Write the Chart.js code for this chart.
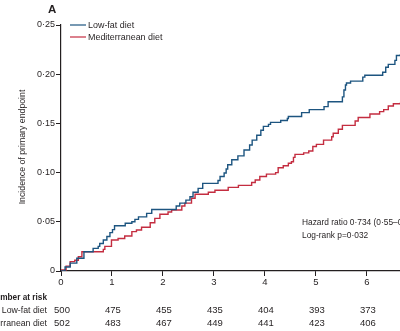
<!DOCTYPE html>
<html>
<head>
<meta charset="utf-8">
<script src="https://cdn.jsdelivr.net/npm/chart.js@4"></script>
<style>
  html, body { margin: 0; padding: 0; background: #fff; }
  #wrap { width: 400px; height: 331px; }
</style>
</head>
<body>
<div id="wrap"><canvas id="km"></canvas></div>
<script>
// Kaplan-Meier steps (years, cumulative incidence)
const lowFatYears = [0, 0.08, 0.18, 0.31, 0.45, 0.63, 0.73, 0.76, 0.83, 0.90, 0.96, 1.01, 1.05, 1.26, 1.39, 1.45, 1.52, 1.68, 1.78,
  2.26, 2.33, 2.45, 2.53, 2.59, 2.69, 2.78, 3.08, 3.12, 3.20, 3.24, 3.27, 3.35, 3.47, 3.59, 3.70, 3.75, 3.84, 3.92, 3.97,
  4.07, 4.11, 4.31, 4.44, 4.46, 4.72, 4.87, 5.16, 5.24, 5.52, 5.55, 5.58, 5.60, 5.68, 5.92, 5.96, 6.31, 6.37, 6.42, 6.55, 6.58, 6.65];
const lowFatIncidence = [0, 0.004, 0.008, 0.013, 0.0196, 0.023, 0.025, 0.028, 0.0315, 0.035, 0.039, 0.042, 0.046, 0.0485, 0.050, 0.0525, 0.055, 0.0586, 0.0625,
  0.066, 0.069, 0.072, 0.0755, 0.080, 0.084, 0.089, 0.092, 0.096, 0.0996, 0.1037, 0.108, 0.113, 0.117, 0.123, 0.128, 0.133, 0.138, 0.143, 0.147,
  0.149, 0.151, 0.153, 0.155, 0.157, 0.161, 0.164, 0.167, 0.172, 0.177, 0.184, 0.189, 0.191, 0.193, 0.197, 0.199, 0.202, 0.207, 0.210, 0.214, 0.219, 0.220];

const medYears = [0, 0.01, 0.10, 0.18, 0.27, 0.34, 0.41, 0.83, 0.86, 0.99, 1.12, 1.25, 1.39, 1.48, 1.58, 1.75, 1.84, 1.94, 2.10, 2.17,
  2.37, 2.43, 2.56, 2.63, 2.89, 3.02, 3.28, 3.48, 3.74, 3.81, 3.90, 4.03, 4.21, 4.26, 4.36, 4.46, 4.52, 4.56, 4.59, 4.76, 4.86,
  4.94, 5.01, 5.15, 5.31, 5.34, 5.44, 5.52, 5.77, 5.83, 6.06, 6.25, 6.33, 6.42, 6.52, 6.65];
const medIncidence = [0, 0.001, 0.005, 0.0095, 0.011, 0.0145, 0.0196, 0.022, 0.025, 0.0315, 0.033, 0.0356, 0.040, 0.0417, 0.0444, 0.049, 0.0535, 0.0576, 0.060, 0.062,
  0.066, 0.069, 0.074, 0.078, 0.080, 0.082, 0.085, 0.087, 0.090, 0.0925, 0.096, 0.0985, 0.100, 0.105, 0.107, 0.1095, 0.111, 0.1155, 0.1185, 0.120, 0.122,
  0.1265, 0.1287, 0.133, 0.1365, 0.140, 0.144, 0.148, 0.1524, 0.156, 0.1595, 0.162, 0.164, 0.1677, 0.170, 0.171];

// number at risk table
const riskYears = [0, 1, 2, 3, 4, 5, 6];
const lowFatAtRisk = [500, 475, 455, 435, 404, 393, 373];
const medAtRisk = [502, 483, 467, 449, 441, 423, 406];

const seriesNames = ["Low-fat diet", "Mediterranean diet"];
const seriesColors = ["#1d5580", "#c42d40"];

const FONT = "'Liberation Sans', Arial, sans-serif";
const INK = "#231f20";

const midDot = v => v === 0 ? "0" : v.toFixed(2).replace(".", "\u00b7");

const toPoints = (xs, ys) => xs.map((x, i) => ({ x: x, y: ys[i] }));

// text squeezed horizontally, the journal face is narrower than anything installed
function label(ctx, text, x, y, align, font, sx, rot) {
  ctx.save();
  ctx.translate(x, y);
  if (rot) ctx.rotate(rot);
  ctx.scale(sx, 1);
  ctx.font = font;
  ctx.textAlign = align;
  ctx.textBaseline = "middle";
  ctx.fillText(text, 0, 0);
  ctx.restore();
}

// legend, panel letter, axis title, annotation and risk table
const extras = {
  id: "extras",
  afterDraw(chart) {
    const ctx = chart.ctx;
    const xs = chart.scales.x;
    const area = chart.chartArea;
    const reg = "9.5px " + FONT;
    const bold = "bold 9.5px " + FONT;
    ctx.save();
    ctx.fillStyle = INK;

    label(ctx, "A", 48, 10, "left", "bold 11.5px " + FONT, 1);

    label(ctx, "Incidence of primary endpoint", 22, (area.top + area.bottom) / 2 - 1, "center", reg, 0.92, -Math.PI / 2);

    // legend
    seriesNames.forEach((name, i) => {
      const y = 25 + i * 12;
      ctx.strokeStyle = seriesColors[i];
      ctx.lineWidth = 1.2;
      ctx.beginPath();
      ctx.moveTo(70, y);
      ctx.lineTo(86, y);
      ctx.stroke();
      label(ctx, name, 88, y, "left", reg, 0.94);
    });

    // annotation
    label(ctx, "Hazard ratio 0\u00b7734 (0\u00b755\u20130\u00b798)", 302, 222, "left", reg, 0.88);
    label(ctx, "Log-rank p=0\u00b7032", 302, 235, "left", reg, 0.88);

    // number at risk
    label(ctx, "Number at risk", 47, 297, "right", bold, 0.87);
    label(ctx, seriesNames[0], 47, 310, "right", reg, 0.92);
    label(ctx, seriesNames[1], 47, 323, "right", reg, 0.92);
    riskYears.forEach((yr, i) => {
      const px = xs.getPixelForValue(yr) + 1;
      label(ctx, String(lowFatAtRisk[i]), px, 310, "center", reg, 1);
      label(ctx, String(medAtRisk[i]), px, 323, "center", reg, 1);
    });
    ctx.restore();
  }
};

new Chart(document.getElementById("km"), {
  type: "line",
  data: {
    datasets: [
      {
        label: seriesNames[0],
        data: toPoints(lowFatYears, lowFatIncidence),
        borderColor: seriesColors[0],
        borderWidth: 1.4,
        stepped: true,
        pointRadius: 0,
        fill: false
      },
      {
        label: seriesNames[1],
        data: toPoints(medYears, medIncidence),
        borderColor: seriesColors[1],
        borderWidth: 1.4,
        stepped: true,
        pointRadius: 0,
        fill: false
      }
    ]
  },
  options: {
    responsive: true,
    maintainAspectRatio: false,
    animation: false,
    layout: { padding: { top: 25, right: 0, bottom: 0, left: 0 } },
    plugins: {
      legend: { display: false },
      tooltip: { enabled: false }
    },
    scales: {
      x: {
        type: "linear",
        min: 0,
        max: 6.65,
        afterFit(scale) { scale.height = 60; },
        border: { display: true, color: INK, width: 1.2 },
        grid: { drawOnChartArea: false, drawTicks: true, tickLength: 5, color: INK, lineWidth: 1 },
        ticks: {
          stepSize: 1,
          includeBounds: false,
          padding: 1,
          color: INK,
          font: { family: FONT, size: 9.5 },
          maxRotation: 0
        }
      },
      y: {
        min: 0,
        max: 0.25,
        afterFit(scale) { scale.width = 61; },
        border: { display: true, color: INK, width: 1.2 },
        grid: { drawOnChartArea: false, drawTicks: true, tickLength: 5, color: INK, lineWidth: 1 },
        ticks: {
          stepSize: 0.05,
          padding: 1,
          color: INK,
          font: { family: FONT, size: 9 },
          callback: v => midDot(v)
        }
      }
    }
  },
  plugins: [extras]
});
</script>
</body>
</html>
